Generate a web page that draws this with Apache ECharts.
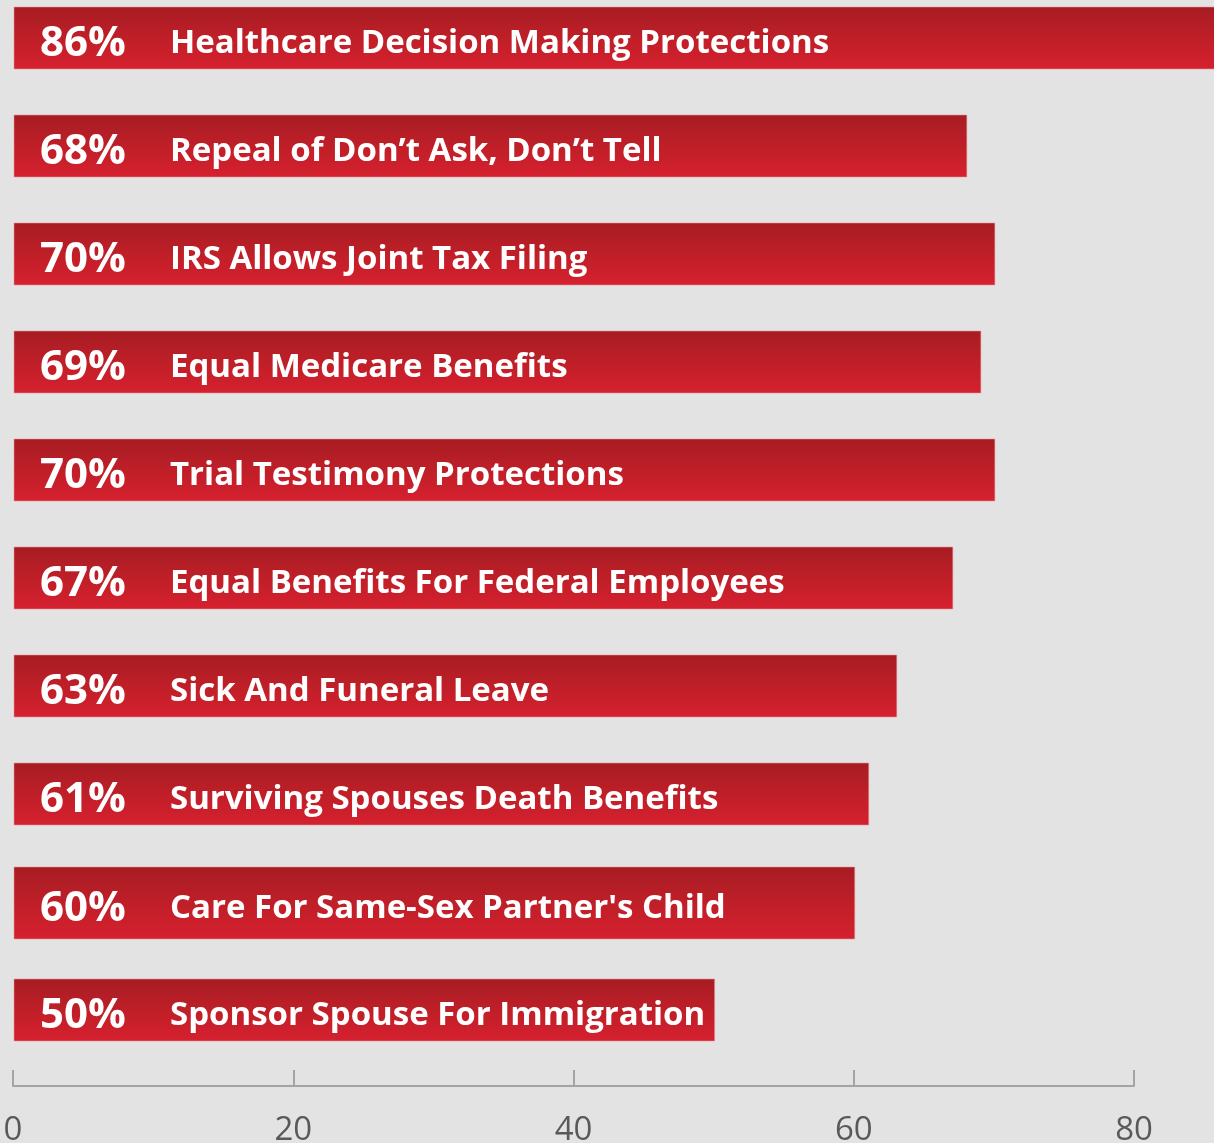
<!DOCTYPE html>
<html><head><meta charset="utf-8">
<script src="https://cdn.jsdelivr.net/npm/echarts@6/dist/echarts.min.js"></script>
<style>html,body{margin:0;padding:0;background:#e3e3e3;overflow:hidden}#c{width:1214px;height:1143px}</style>
</head><body><div id="c"></div>
<script>
const categories = [
  "Healthcare Decision Making Protections",
  "Repeal of Don\u2019t Ask, Don\u2019t Tell",
  "IRS Allows Joint Tax Filing",
  "Equal Medicare Benefits",
  "Trial Testimony Protections",
  "Equal Benefits For Federal Employees",
  "Sick And Funeral Leave",
  "Surviving Spouses Death Benefits",
  "Care For Same-Sex Partner's Child",
  "Sponsor Spouse For Immigration"
];
const values = [86, 68, 70, 69, 70, 67, 63, 61, 60, 50];
const xTicks = [0, 20, 40, 60, 80];

const tallIndex = 8;
const chart = echarts.init(document.getElementById('c'), null, {renderer: 'canvas'});
const grad = () => new echarts.graphic.LinearGradient(0, 0, 0, 1, [
  {offset: 0, color: '#a71c23'},
  {offset: 0.5, color: '#bf1f28'},
  {offset: 1, color: '#d6202f'}
]);
chart.setOption({
  backgroundColor: '#e3e3e3',
  animation: false,
  grid: {left: 13, right: 80, top: -16, height: 1080, outerBoundsMode: 'none', containLabel: false},
  xAxis: {
    type: 'value', min: xTicks[0], max: xTicks[xTicks.length - 1], interval: 20,
    offset: 22,
    axisLine: {show: true, lineStyle: {color: '#a4a4a4', width: 2}},
    axisTick: {show: true, inside: true, length: 16, lineStyle: {color: '#a4a4a4', width: 2}},
    axisLabel: {fontSize: 33, color: '#595959', fontFamily: 'Open Sans', margin: 28},
    splitLine: {show: false}
  },
  yAxis: {type: 'category', data: categories, inverse: true, show: false},
  series: [{
    type: 'custom',
    clip: false,
    data: values.map((v, i) => [v, i]),
    renderItem: function (params, api) {
      const idx = params.dataIndex;
      const v = api.value(0);
      const ci = api.value(1);
      const s = api.coord([0, ci]);
      const e = api.coord([v, ci]);
      const h = idx === tallIndex ? 72 : 62;
      const cy = s[1] + (idx === tallIndex ? 1 : 0);
      return {
        type: 'group',
        children: [
          {type: 'rect', shape: {x: s[0] + 1, y: cy - h / 2, width: e[0] - s[0], height: h},
           style: {fill: grad(), stroke: 'rgba(235,150,150,0.55)', lineWidth: 1}},
          {type: 'text', style: {text: v + '%', x: s[0] + 27, y: cy + 6, verticalAlign: 'middle',
            fill: '#ffffff', font: 'bold 42px "Open Sans"'}},
          {type: 'text', style: {text: categories[idx], x: s[0] + 157, y: cy + 6, verticalAlign: 'middle',
            fill: '#ffffff', font: 'bold 33px "Open Sans"'}}
        ]
      };
    }
  }]
});
</script>
</body></html>
